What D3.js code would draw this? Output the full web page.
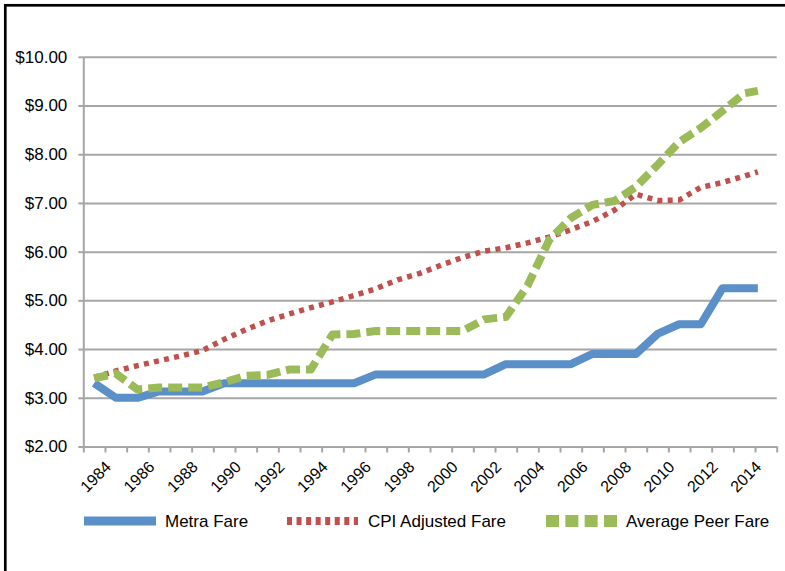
<!DOCTYPE html>
<html>
<head>
<meta charset="utf-8">
<script src="https://cdn.jsdelivr.net/npm/d3@7"></script>
<style>
  html, body { margin: 0; padding: 0; background: #fff; }
  svg { display: block; }
  text { font-family: "Liberation Sans", Arial, sans-serif; fill: #000; }
</style>
</head>
<body>
<svg id="chart" width="785" height="571"></svg>
<script>
// ---- data ----
// x positions are in years on a date-like axis (mid-year points; the final point falls early in 2015)
const periods = [1984.5, 1985.5, 1986.5, 1987.5, 1988.5, 1989.5, 1990.5, 1991.5, 1992.5, 1993.5,
                 1994.5, 1995.5, 1996.5, 1997.5, 1998.5, 1999.5, 2000.5, 2001.5, 2002.5, 2003.5,
                 2004.5, 2005.5, 2006.5, 2007.5, 2008.5, 2009.5, 2010.5, 2011.5, 2012.5, 2013.5,
                 2014.5, 2015.13];
const metraFare = [3.30, 3.00, 3.00, 3.13, 3.13, 3.13, 3.30, 3.30, 3.30, 3.30,
                   3.30, 3.30, 3.30, 3.48, 3.48, 3.48, 3.48, 3.48, 3.48, 3.69,
                   3.69, 3.69, 3.69, 3.90, 3.90, 3.90, 4.31, 4.51, 4.51, 5.25,
                   5.25, 5.25];
const cpiAdjustedFare = [3.42, 3.55, 3.66, 3.76, 3.86, 3.97, 4.20, 4.40, 4.58, 4.72,
                         4.85, 4.97, 5.10, 5.24, 5.42, 5.55, 5.72, 5.88, 6.01, 6.08,
                         6.18, 6.30, 6.45, 6.62, 6.85, 7.18, 7.05, 7.06, 7.32, 7.42,
                         7.55, 7.64];
const averagePeerFare = [3.40, 3.50, 3.17, 3.21, 3.21, 3.21, 3.32, 3.45, 3.47, 3.58,
                         3.58, 4.30, 4.31, 4.37, 4.37, 4.37, 4.37, 4.37, 4.61, 4.66,
                         5.30, 6.24, 6.69, 6.96, 7.04, 7.33, 7.78, 8.25, 8.54, 8.89,
                         9.25, 9.30];
const seriesNames = ["Metra Fare", "CPI Adjusted Fare", "Average Peer Fare"];
const yearTicks = [1984, 1985, 1986, 1987, 1988, 1989, 1990, 1991, 1992, 1993, 1994,
                   1995, 1996, 1997, 1998, 1999, 2000, 2001, 2002, 2003, 2004, 2005,
                   2006, 2007, 2008, 2009, 2010, 2011, 2012, 2013, 2014, 2015, 2016];
const yearLabels = [1984, 1986, 1988, 1990, 1992, 1994, 1996, 1998, 2000,
                    2002, 2004, 2006, 2008, 2010, 2012, 2014];
const yTicks = [2, 3, 4, 5, 6, 7, 8, 9, 10];

// ---- layout / styles ----
const plot = { left: 83.3, right: 776.7, top: 56.8, bottom: 446.5 };
const styles = [
  { color: "#5A8FC8", width: 8,   dash: null },
  { color: "#C0504D", width: 5.5, dash: "5,5.3" },
  { color: "#9BBB59", width: 8,   dash: "14,6" }
];
const gridColor = "#A6A6A6";

const svg = d3.select("#chart");

// outer frame (only top/left edges are visible in the picture)
svg.append("rect")
  .attr("x", 5.3).attr("y", 5.3).attr("width", 800).attr("height", 600)
  .attr("fill", "none").attr("stroke", "#000").attr("stroke-width", 2.7);

const x = d3.scaleLinear().domain([1984, 2016]).range([plot.left, plot.right]);
const y = d3.scaleLinear().domain([2, 10]).range([plot.bottom, plot.top]);

// horizontal gridlines + y axis
const yAxis = d3.axisLeft(y)
  .tickValues(yTicks)
  .tickSize(-(plot.right - plot.left))
  .tickSizeOuter(0)
  .tickPadding(16)
  .tickFormat(d => "$" + d.toFixed(2));
const gy = svg.append("g").attr("transform", `translate(${plot.left},0)`).call(yAxis);
gy.select(".domain").attr("stroke", gridColor).attr("stroke-width", 2);
gy.selectAll(".tick line").attr("stroke", gridColor).attr("stroke-width", 2);
gy.selectAll(".tick text").attr("font-size", 17).attr("font-family", "Liberation Sans, Arial, sans-serif");
// small outer tick marks on the y axis
gy.selectAll(".tick").append("line")
  .attr("x1", -5).attr("x2", 0).attr("stroke", gridColor).attr("stroke-width", 2);

// x axis
const xAxis = d3.axisBottom(x).tickValues(yearTicks).tickSize(6).tickSizeOuter(0).tickFormat("");
const gx = svg.append("g").attr("transform", `translate(0,${plot.bottom})`).call(xAxis);
gx.select(".domain").attr("stroke", gridColor).attr("stroke-width", 2);
gx.selectAll(".tick line").attr("stroke", gridColor).attr("stroke-width", 2);

svg.append("g").selectAll("text").data(yearLabels).join("text")
  .attr("transform", d => `translate(${x(d + 0.5) + 18},${plot.bottom + 21.5}) rotate(-45)`)
  .attr("text-anchor", "end")
  .attr("font-size", 16)
  .text(d => d);

// series lines
const allSeries = [metraFare, cpiAdjustedFare, averagePeerFare];
const line = d3.line().x((d, i) => x(periods[i])).y(d => y(d));
const drawOrder = [0, 1, 2];
drawOrder.forEach(k => {
  svg.append("path")
    .datum(allSeries[k])
    .attr("d", line)
    .attr("fill", "none")
    .attr("stroke", styles[k].color)
    .attr("stroke-width", styles[k].width)
    .attr("stroke-linejoin", "round")
    .attr("stroke-dasharray", styles[k].dash);
});

// legend
const legendY = 521;
const legendItems = [
  { sx: 84,  ex: 156, tx: 165, dash: null },
  { sx: 287, ex: 358, tx: 368, dash: "5,4.55" },
  { sx: 546, ex: 618, tx: 626, dash: "13,6.33" }
];
const lg = svg.append("g");
legendItems.forEach((it, k) => {
  lg.append("line")
    .attr("x1", it.sx).attr("x2", it.ex).attr("y1", legendY).attr("y2", legendY)
    .attr("stroke", styles[k].color)
    .attr("stroke-width", k === 1 ? 8 : (k === 2 ? 12 : 9))
    .attr("stroke-dasharray", it.dash);
  lg.append("text")
    .attr("x", it.tx).attr("y", legendY).attr("dy", "0.36em")
    .attr("font-size", 17)
    .text(seriesNames[k]);
});
</script>
</body>
</html>
